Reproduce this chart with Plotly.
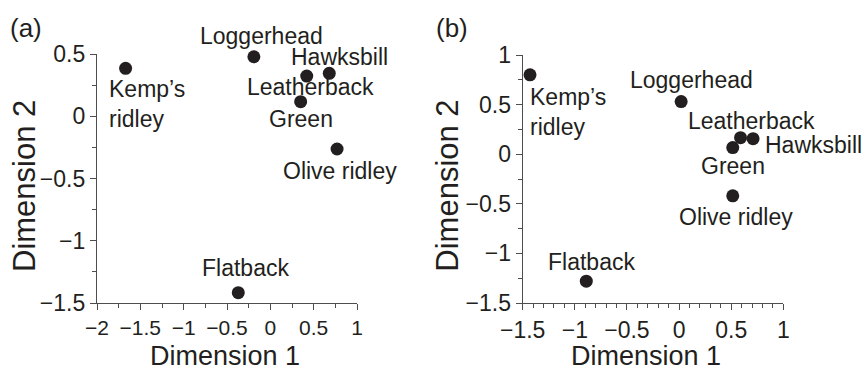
import plotly.graph_objects as go

# ---- data ----
species = ["Kemp’s ridley", "Loggerhead", "Leatherback", "Hawksbill", "Green", "Olive ridley", "Flatback"]
label_text = ["Kemp’s<br>ridley", "Loggerhead", "Leatherback", "Hawksbill", "Green", "Olive ridley", "Flatback"]

a_dim1 = [-1.67, -0.19, 0.42, 0.68, 0.35, 0.77, -0.37]
a_dim2 = [0.385, 0.478, 0.323, 0.345, 0.117, -0.263, -1.417]

b_dim1 = [-1.43, 0.02, 0.59, 0.71, 0.515, 0.515, -0.89]
b_dim2 = [0.80, 0.53, 0.167, 0.157, 0.067, -0.42, -1.28]

panel_labels = ["(a)", "(b)"]
x_title = "Dimension 1"
y_title = "Dimension 2"

# ---- label placement (pixel offsets from each point) ----
a_anchor = ["left", "center", "center", "center", "center", "center", "center"]
a_xshift = [-19, 8, 3.5, 10, 0, 3, 7]
a_yshift = [-36, 21, -11, 16, -17, -22, 25]

b_anchor = ["left", "center", "center", "left", "center", "center", "center"]
b_xshift = [-2, 10, 11, 10, 0, 3, 5]
b_yshift = [-37, 22, 17, -6, -18, -21, 19]

W, H = 862, 372
INK = "#231f20"
AXC = "#4d4d4f"
FONT = "Liberation Sans, Arial, Helvetica, sans-serif"

fig = go.Figure()

fig.add_trace(go.Scatter(x=a_dim1, y=a_dim2, mode="markers", xaxis="x", yaxis="y",
                         marker=dict(size=13, color=INK), cliponaxis=False,
                         text=species, hoverinfo="text", showlegend=False))
fig.add_trace(go.Scatter(x=b_dim1, y=b_dim2, mode="markers", xaxis="x2", yaxis="y2",
                         marker=dict(size=13, color=INK), cliponaxis=False,
                         text=species, hoverinfo="text", showlegend=False))

def axis_common(fs=23, **kw):
    d = dict(showline=True, linecolor=AXC, linewidth=1.3, mirror=False,
             ticks="outside", ticklen=6, tickwidth=1.3, tickcolor=AXC,
             showgrid=False, zeroline=False, tick0=0, dtick=0.5,
             tickfont=dict(family=FONT, size=fs, color=INK),
             automargin=False, fixedrange=True)
    d.update(kw)
    return d

def minor(step):
    return dict(dtick=step, ticks="outside", ticklen=3.5, tickwidth=1.2, tickcolor=AXC)

fig.update_layout(
    template="none",
    width=W, height=H,
    margin=dict(l=0, r=0, t=0, b=0, autoexpand=False),
    paper_bgcolor="white", plot_bgcolor="white",
    font=dict(family=FONT, color=INK),
    xaxis=axis_common(fs=21, domain=[97 / W, 357 / W], range=[-2, 1], anchor="y", minor=minor(0.25)),
    yaxis=axis_common(domain=[1 - 303 / H, 1 - 54 / H], range=[-1.5, 0.5], anchor="x", minor=minor(0.25)),
    xaxis2=axis_common(domain=[522.7 / W, 783.3 / W], range=[-1.5, 1], anchor="y2", minor=minor(0.1)),
    yaxis2=axis_common(domain=[1 - 303 / H, 1 - 55 / H], range=[-1.5, 1], anchor="x2", minor=minor(0.25)),
)

ann = []
for xs, ys, anch, dx, dy, xr, yr in [
    (a_dim1, a_dim2, a_anchor, a_xshift, a_yshift, "x", "y"),
    (b_dim1, b_dim2, b_anchor, b_xshift, b_yshift, "x2", "y2"),
]:
    for i, t in enumerate(label_text):
        ann.append(dict(x=xs[i], y=ys[i], xref=xr, yref=yr, text=t, showarrow=False,
                        xanchor=anch[i], yanchor="middle", align="left",
                        xshift=dx[i], yshift=dy[i],
                        font=dict(family=FONT, size=23, color=INK)))

# panel labels
for lbl, px in zip(panel_labels, [8, 434]):
    ann.append(dict(x=px / W, y=1 - 28 / H, xref="paper", yref="paper", text=lbl,
                    showarrow=False, xanchor="left", yanchor="middle",
                    font=dict(family=FONT, size=26, color=INK)))

# axis titles
for cx in [225, 646]:
    ann.append(dict(x=cx / W, y=1 - 355.5 / H, xref="paper", yref="paper", text=x_title,
                    showarrow=False, xanchor="center", yanchor="middle",
                    font=dict(family=FONT, size=27, color=INK)))
for cx in [24, 446.7]:
    ann.append(dict(x=cx / W, y=1 - 186 / H, xref="paper", yref="paper", text=y_title,
                    showarrow=False, xanchor="center", yanchor="middle", textangle=-90,
                    font=dict(family=FONT, size=31, color=INK)))

fig.update_layout(annotations=ann)

fig.write_html(
    "out.html",
    config={"displayModeBar": False},
    post_script="document.body.style.margin='0';document.body.style.padding='0';"
                "document.body.style.overflow='hidden';",
)
